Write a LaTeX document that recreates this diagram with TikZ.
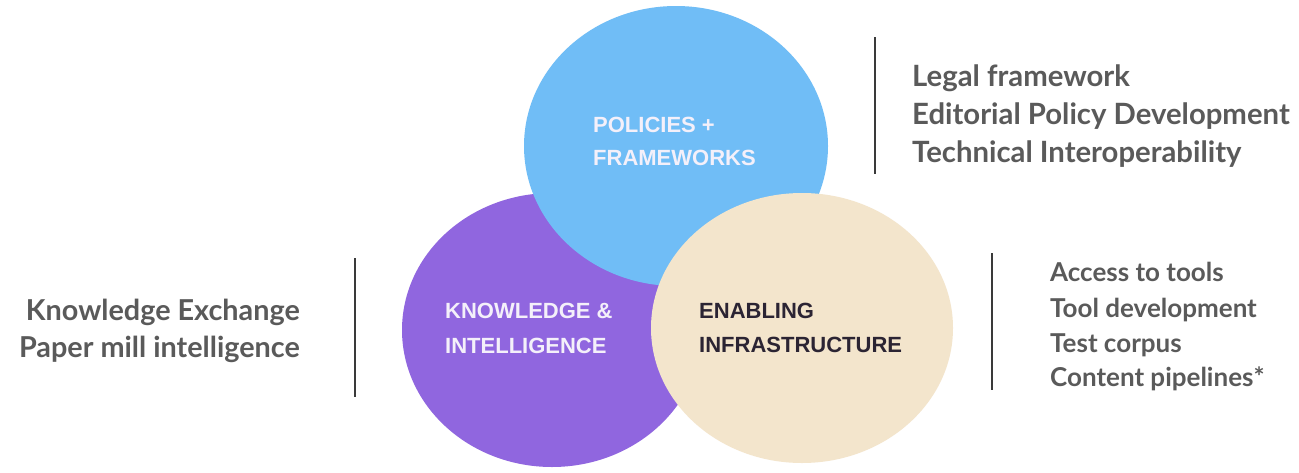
\documentclass[tikz,border=0pt]{standalone}
\usepackage{fontspec}
\setmainfont{Liberation Sans}
\newfontfamily\latofont{Lato}
\usetikzlibrary{shapes.geometric}
\definecolor{cblue}{HTML}{70BDF6}
\definecolor{cpurple}{HTML}{9066DF}
\definecolor{cbeige}{HTML}{F3E5CC}
\definecolor{ctextgray}{HTML}{5A5A5A}
\definecolor{clabelwhite}{HTML}{F4F0FA}
\definecolor{clabeldark}{HTML}{2B2433}
\definecolor{cline}{HTML}{3A3A3A}
\begin{document}
\begin{tikzpicture}[x=1pt,y=-1pt,
  blob/.style={ellipse,draw=none,inner sep=0pt},
  circlabel/.style={anchor=base west,inner sep=0pt,font=\fontsize{22}{26}\selectfont\bfseries},
  listbig/.style={inner sep=0pt,text=ctextgray,font=\latofont\fontsize{29.3}{35}\selectfont\bfseries},
  listleft/.style={inner sep=0pt,text=ctextgray,font=\latofont\fontsize{28.8}{35}\selectfont\bfseries},
  listsmall/.style={inner sep=0pt,text=ctextgray,font=\latofont\fontsize{26}{30}\selectfont\bfseries},
  sepline/.style={draw=cline,line width=1.6pt}]
\useasboundingbox (0,0) rectangle (1299,472);
\fill[white] (0,0) rectangle (1299,472);
% circles
\node[blob,fill=cpurple,minimum width=300pt,minimum height=274pt] (know) at (552,330) {};
\node[blob,fill=cblue,minimum width=304pt,minimum height=280pt] (pol) at (676,146) {};
\node[blob,fill=cbeige,minimum width=302pt,minimum height=270pt] (infra) at (802,328) {};
% circle labels
\node[circlabel,text=clabelwhite] (pol1) at (593,132) {POLICIES +};
\node[circlabel,text=clabelwhite] (pol2) at (593,165) {FRAMEWORKS};
\node[circlabel,text=clabelwhite] (know1) at (445,318) {KNOWLEDGE \&};
\node[circlabel,text=clabelwhite] (know2) at (445,353) {INTELLIGENCE};
\node[circlabel,text=clabeldark] (inf1) at (699,318) {ENABLING};
\node[circlabel,text=clabeldark] (inf2) at (699,352) {INFRASTRUCTURE};
% separator lines
\coordinate (tlA) at (875,37);
\coordinate (tlB) at (875,174);
\draw[sepline] (tlA) -- (tlB);
\coordinate (brA) at (992,253);
\coordinate (brB) at (992,390);
\draw[sepline] (brA) -- (brB);
\coordinate (lA) at (355,258);
\coordinate (lB) at (355,397);
\draw[sepline] (lA) -- (lB);
% top right list
\node[listbig,anchor=base west] (tr1) at (912,86) {Legal framework};
\node[listbig,anchor=base west] (tr2) at (912,124) {Editorial Policy Development};
\node[listbig,anchor=base west] (tr3) at (912,162) {Technical Interoperability};
% bottom right list
\node[listsmall,anchor=base west] (br1) at (1050,281) {Access to tools};
\node[listsmall,anchor=base west] (br2) at (1050,317) {Tool development};
\node[listsmall,anchor=base west] (br3) at (1050,352) {Test corpus};
\node[listsmall,anchor=base west] (br4) at (1050,386) {Content pipelines*};
% left list
\node[listleft,anchor=base east] (l1) at (300,320) {Knowledge Exchange};
\node[listleft,anchor=base east] (l2) at (300,357) {Paper mill intelligence};
\end{tikzpicture}
\end{document}
